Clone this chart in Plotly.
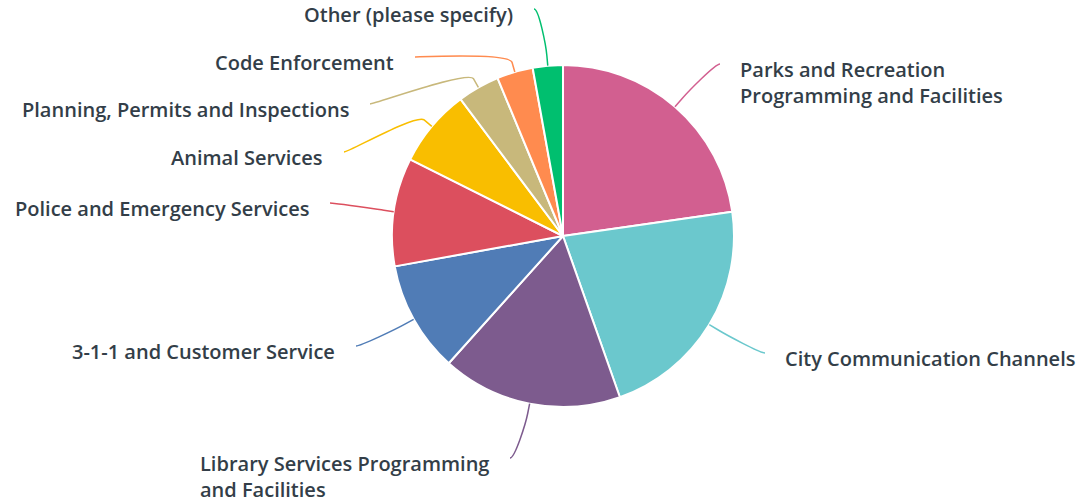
import math
import plotly.graph_objects as go

# ---------------- data ----------------
categories = [
    "Parks and Recreation Programming and Facilities",
    "City Communication Channels",
    "Library Services Programming and Facilities",
    "3-1-1 and Customer Service",
    "Police and Emergency Services",
    "Animal Services",
    "Planning, Permits and Inspections",
    "Code Enforcement",
    "Other (please specify)",
]
label_lines = [
    ["Parks and Recreation", "Programming and Facilities"],
    ["City Communication Channels"],
    ["Library Services Programming", "and Facilities"],
    ["3-1-1 and Customer Service"],
    ["Police and Emergency Services"],
    ["Animal Services"],
    ["Planning, Permits and Inspections"],
    ["Code Enforcement"],
    ["Other (please specify)"],
]
responses = [80, 77, 60, 37, 36, 26, 14, 12, 10]

# ---------------- styles / layout ----------------
colors = ["#D25F90", "#6BC8CD", "#7D5B8E", "#507CB6", "#DC4F5E",
          "#F9BE00", "#C8B87B", "#FF8B4F", "#00BF6F"]
TEXT_COLOR = "#333E48"
FONT = "Open Sans"
FONT_SIZE = 20
LINE_H = FONT_SIZE * 1.3

# connector end points near each label (screen pixels)
label_ends = [(720, 64), (765, 353), (510, 458), (356, 346), (330, 203),
              (344, 152), (370, 104), (415, 57), (534, 9)]

W, H = 1083, 503
CX, CY, R = 563, 236, 171    # pie centre / radius (screen px)
BREAK = 10                   # connector break distance outside the pie
GAP = 18                     # gap between connector end and label text

fig = go.Figure()
fig.add_trace(go.Pie(
    labels=categories,
    values=responses,
    sort=False,
    direction="clockwise",
    rotation=0,
    textinfo="none",
    hoverinfo="label+value+percent",
    marker=dict(colors=colors, line=dict(color="white", width=2)),
    domain=dict(
        x=[(CX - R) / W, (CX + R) / W],
        y=[1 - (CY + R) / H, 1 - (CY - R) / H],
    ),
    showlegend=False,
))

total = float(sum(responses))
shapes = []
annotations = []
cum = 0.0
for i, v in enumerate(responses):
    mid = (cum + v / 2.0) / total * 2 * math.pi  # clockwise from 12 o'clock
    cum += v
    sx, sy = math.sin(mid), -math.cos(mid)
    tx, ty = CX + R * sx, CY + R * sy
    bx, by = CX + (R + BREAK) * sx, CY + (R + BREAK) * sy
    c2x, c2y = 2 * bx - tx, 2 * by - ty
    ex, ey = label_ends[i]
    right_side = sx > 0
    c1x = ex - 5 if right_side else ex + 5
    path = (f"M {ex},{ey} C {c1x},{ey} {c2x:.2f},{c2y:.2f} {bx:.2f},{by:.2f} "
            f"L {tx:.2f},{ty:.2f}")
    shapes.append(dict(type="path", path=path, xref="x", yref="y",
                       line=dict(color=colors[i], width=1.5), layer="above"))
    lines = label_lines[i]
    ycenter = ey + 5 + (len(lines) - 1) * LINE_H / 2
    annotations.append(dict(
        text="<br>".join(lines),
        x=ex + GAP if right_side else ex - GAP - 1,
        y=ycenter,
        xref="x", yref="y",
        xanchor="left" if right_side else "right",
        yanchor="middle",
        align="left",
        showarrow=False,
        font=dict(family=FONT, size=FONT_SIZE, color=TEXT_COLOR, weight=600),
    ))

fig.update_layout(
    width=W, height=H,
    margin=dict(l=0, r=0, t=0, b=0),
    paper_bgcolor="white",
    plot_bgcolor="white",
    xaxis=dict(range=[0, W], visible=False, fixedrange=True, domain=[0, 1]),
    yaxis=dict(range=[H, 0], visible=False, fixedrange=True, domain=[0, 1]),
    shapes=shapes,
    annotations=annotations,
    font=dict(family=FONT, color=TEXT_COLOR),
)

fig.write_html(
    "out.html",
    config={"displayModeBar": False},
    post_script="document.body.style.margin='0';document.body.style.overflow='hidden';",
)
